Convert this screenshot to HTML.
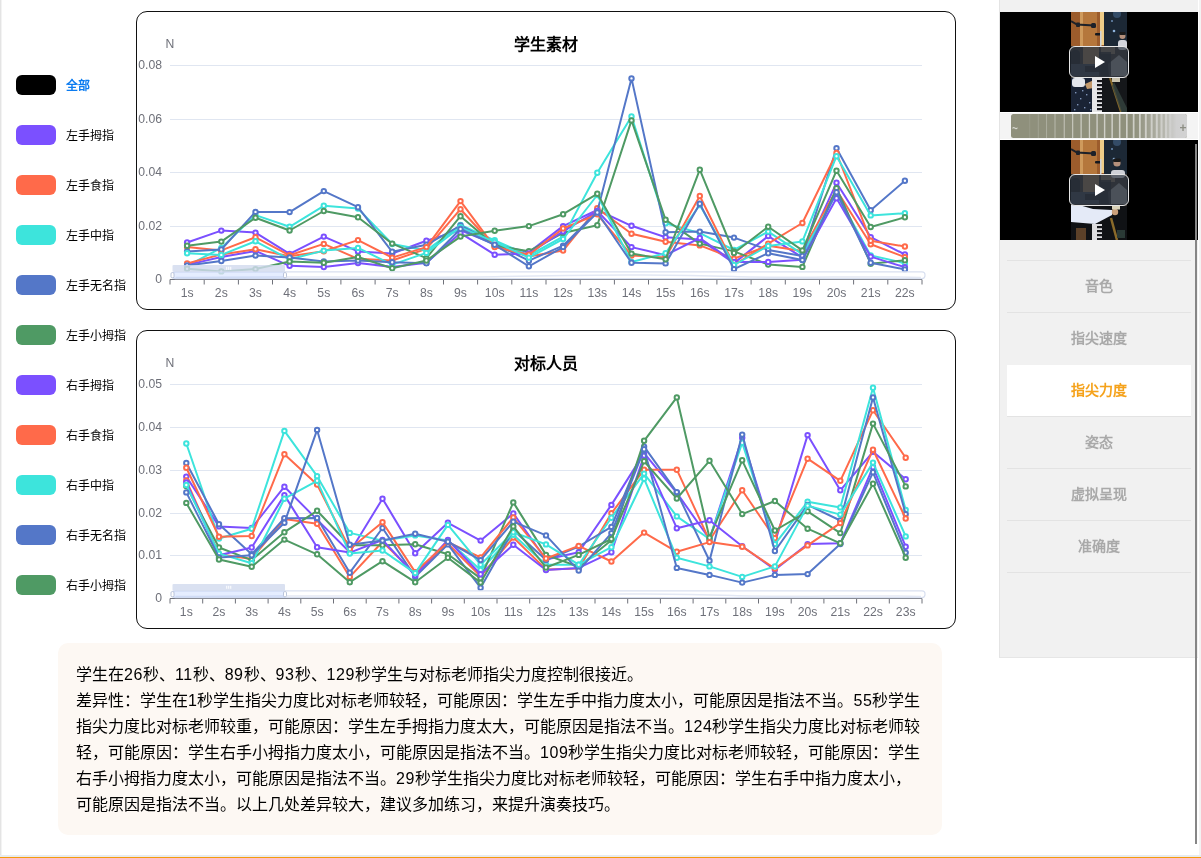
<!DOCTYPE html>
<html lang="zh-CN"><head><meta charset="utf-8"><title>指尖力度</title>
<style>
*{box-sizing:border-box;margin:0;padding:0}
html,body{width:1201px;height:858px;overflow:hidden;background:#fff;font-family:"Liberation Sans",sans-serif;color:#000}
body{position:relative}
.edge-l{position:absolute;left:0;top:0;width:2px;height:856px;background:linear-gradient(90deg,#e4e4e4 0,#e4e4e4 50%,#f3f3f3 50%,#f3f3f3 100%)}
.edge-r{position:absolute;left:1199px;top:0;width:2px;height:856px;background:#f3f3f3}
.edge-b{position:absolute;left:0;top:855px;width:1201px;height:2px;background:#e8ecee}
.edge-o{position:absolute;left:0;top:857px;width:1201px;height:1px;background:#f59a0c}
.lg{position:absolute;left:16px;height:20px;white-space:nowrap;will-change:transform}
.sw{position:absolute;left:0;top:0;width:40px;height:20px;border-radius:6px}
.lt{position:absolute;left:50px;top:0.8px;line-height:20px;font-size:12px;color:#000}
.lt.all{color:#0b7bf0;font-weight:bold}
.box{position:absolute;left:136px;width:820px;height:299px;border:1.5px solid #111;border-radius:11px;background:#fff;overflow:hidden;will-change:transform}
.box svg.ch{position:absolute;left:-0.5px;top:-0.5px;display:block}
.txt{position:absolute;left:58px;top:643px;width:884px;height:192px;background:#fdf8f3;border-radius:10px;padding:19px 18px 17px;will-change:transform}
.ln{height:26px;line-height:26px;font-size:16px;white-space:nowrap;overflow:hidden;color:#000}
.ln .d{letter-spacing:0.56px}
.side{position:absolute;left:999px;top:0;width:199px;height:658px;background:#f1f1f1;border-left:1px solid #e4e4e4;border-bottom:1px solid #e6e6e6;will-change:transform}
.vid{position:absolute;left:0;width:198px;height:100px;background:#000}
.vid svg{position:absolute;left:71px;top:0}
.play{position:absolute;left:69px;top:34px;width:60px;height:32px;border:1.5px solid #e6e6e6;border-radius:6px;background:rgba(43,51,63,.68)}
.play:after{content:"";position:absolute;left:25px;top:8.5px;border-left:10px solid #fff;border-top:6.5px solid transparent;border-bottom:6.5px solid transparent}
.strip{position:absolute;left:0;top:112px;width:198px;height:28px;background:#f4f4f4;border-top:1px solid #fff;border-bottom:1px solid #fff}
.bar{position:absolute;left:11px;top:1px;width:176px;height:24px;border-radius:2.5px;overflow:hidden;background:#8f907c}
.bar .fade{position:absolute;left:0;top:0;width:176px;height:24px;background:linear-gradient(90deg,rgba(210,210,208,0) 0,rgba(210,210,208,0) 70%,rgba(208,208,206,.55) 86%,#d0d0d0 94%,#d2d2d2 100%)}
.bar .lo{position:absolute;left:0;top:0;width:30px;height:24px;background:linear-gradient(90deg,rgba(143,144,124,1),rgba(143,144,124,0))}
.bar span{position:absolute;top:4px;font-size:13px;line-height:16px;font-weight:bold}
.mi{position:absolute;left:7px;width:184px;height:52px;line-height:51px;text-align:center;font-size:14px;font-weight:bold;color:#a9a9a9;border-top:1px solid #e3e3e3}
.mi.act{background:#fff;color:#f5a21b;border-top:1px solid #f1f1f1}
.mend{position:absolute;left:7px;top:572px;width:184px;height:1px;background:#e3e3e3}
.sb{position:absolute;left:1195px;top:144px;width:2px;height:700px;background:#868686}
</style></head>
<body>
<div class="edge-l"></div><div class="edge-r"></div><div class="edge-b"></div><div class="edge-o"></div>
<div class="lg" style="top:75px"><span class="sw" style="background:#000"></span><span class="lt all">全部</span></div>
<div class="lg" style="top:125px"><span class="sw" style="background:#7b50ff"></span><span class="lt">左手拇指</span></div>
<div class="lg" style="top:175px"><span class="sw" style="background:#ff6a4a"></span><span class="lt">左手食指</span></div>
<div class="lg" style="top:225px"><span class="sw" style="background:#3de4dc"></span><span class="lt">左手中指</span></div>
<div class="lg" style="top:275px"><span class="sw" style="background:#5477c8"></span><span class="lt">左手无名指</span></div>
<div class="lg" style="top:325px"><span class="sw" style="background:#4f9a64"></span><span class="lt">左手小拇指</span></div>
<div class="lg" style="top:375px"><span class="sw" style="background:#7b50ff"></span><span class="lt">右手拇指</span></div>
<div class="lg" style="top:425px"><span class="sw" style="background:#ff6a4a"></span><span class="lt">右手食指</span></div>
<div class="lg" style="top:475px"><span class="sw" style="background:#3de4dc"></span><span class="lt">右手中指</span></div>
<div class="lg" style="top:525px"><span class="sw" style="background:#5477c8"></span><span class="lt">右手无名指</span></div>
<div class="lg" style="top:575px"><span class="sw" style="background:#4f9a64"></span><span class="lt">右手小拇指</span></div>
<div class="box" style="top:11px">
<svg class="ch" width="817" height="297" viewBox="137 12 817 297">
<line x1="170" y1="65.5" x2="922" y2="65.5" stroke="#e0e6f1" stroke-width="1"/>
<line x1="170" y1="119.5" x2="922" y2="119.5" stroke="#e0e6f1" stroke-width="1"/>
<line x1="170" y1="172.5" x2="922" y2="172.5" stroke="#e0e6f1" stroke-width="1"/>
<line x1="170" y1="226.5" x2="922" y2="226.5" stroke="#e0e6f1" stroke-width="1"/>
<line x1="170" y1="279.5" x2="922" y2="279.5" stroke="#6e7079" stroke-width="1"/>
<line x1="170.0" y1="279.5" x2="170.0" y2="284.5" stroke="#6e7079" stroke-width="1"/>
<line x1="204.2" y1="279.5" x2="204.2" y2="284.5" stroke="#6e7079" stroke-width="1"/>
<line x1="238.4" y1="279.5" x2="238.4" y2="284.5" stroke="#6e7079" stroke-width="1"/>
<line x1="272.5" y1="279.5" x2="272.5" y2="284.5" stroke="#6e7079" stroke-width="1"/>
<line x1="306.7" y1="279.5" x2="306.7" y2="284.5" stroke="#6e7079" stroke-width="1"/>
<line x1="340.9" y1="279.5" x2="340.9" y2="284.5" stroke="#6e7079" stroke-width="1"/>
<line x1="375.1" y1="279.5" x2="375.1" y2="284.5" stroke="#6e7079" stroke-width="1"/>
<line x1="409.3" y1="279.5" x2="409.3" y2="284.5" stroke="#6e7079" stroke-width="1"/>
<line x1="443.5" y1="279.5" x2="443.5" y2="284.5" stroke="#6e7079" stroke-width="1"/>
<line x1="477.6" y1="279.5" x2="477.6" y2="284.5" stroke="#6e7079" stroke-width="1"/>
<line x1="511.8" y1="279.5" x2="511.8" y2="284.5" stroke="#6e7079" stroke-width="1"/>
<line x1="546.0" y1="279.5" x2="546.0" y2="284.5" stroke="#6e7079" stroke-width="1"/>
<line x1="580.2" y1="279.5" x2="580.2" y2="284.5" stroke="#6e7079" stroke-width="1"/>
<line x1="614.4" y1="279.5" x2="614.4" y2="284.5" stroke="#6e7079" stroke-width="1"/>
<line x1="648.5" y1="279.5" x2="648.5" y2="284.5" stroke="#6e7079" stroke-width="1"/>
<line x1="682.7" y1="279.5" x2="682.7" y2="284.5" stroke="#6e7079" stroke-width="1"/>
<line x1="716.9" y1="279.5" x2="716.9" y2="284.5" stroke="#6e7079" stroke-width="1"/>
<line x1="751.1" y1="279.5" x2="751.1" y2="284.5" stroke="#6e7079" stroke-width="1"/>
<line x1="785.3" y1="279.5" x2="785.3" y2="284.5" stroke="#6e7079" stroke-width="1"/>
<line x1="819.5" y1="279.5" x2="819.5" y2="284.5" stroke="#6e7079" stroke-width="1"/>
<line x1="853.6" y1="279.5" x2="853.6" y2="284.5" stroke="#6e7079" stroke-width="1"/>
<line x1="887.8" y1="279.5" x2="887.8" y2="284.5" stroke="#6e7079" stroke-width="1"/>
<line x1="922.0" y1="279.5" x2="922.0" y2="284.5" stroke="#6e7079" stroke-width="1"/>
<g font-family="Liberation Sans, sans-serif" font-size="12.2" fill="#6e7079">
<text x="162" y="69.3" text-anchor="end">0.08</text>
<text x="162" y="123.3" text-anchor="end">0.06</text>
<text x="162" y="176.3" text-anchor="end">0.04</text>
<text x="162" y="230.3" text-anchor="end">0.02</text>
<text x="162" y="283.3" text-anchor="end">0</text>
<text x="187.1" y="296.7" text-anchor="middle">1s</text>
<text x="221.3" y="296.7" text-anchor="middle">2s</text>
<text x="255.5" y="296.7" text-anchor="middle">3s</text>
<text x="289.6" y="296.7" text-anchor="middle">4s</text>
<text x="323.8" y="296.7" text-anchor="middle">5s</text>
<text x="358.0" y="296.7" text-anchor="middle">6s</text>
<text x="392.2" y="296.7" text-anchor="middle">7s</text>
<text x="426.4" y="296.7" text-anchor="middle">8s</text>
<text x="460.5" y="296.7" text-anchor="middle">9s</text>
<text x="494.7" y="296.7" text-anchor="middle">10s</text>
<text x="528.9" y="296.7" text-anchor="middle">11s</text>
<text x="563.1" y="296.7" text-anchor="middle">12s</text>
<text x="597.3" y="296.7" text-anchor="middle">13s</text>
<text x="631.5" y="296.7" text-anchor="middle">14s</text>
<text x="665.6" y="296.7" text-anchor="middle">15s</text>
<text x="699.8" y="296.7" text-anchor="middle">16s</text>
<text x="734.0" y="296.7" text-anchor="middle">17s</text>
<text x="768.2" y="296.7" text-anchor="middle">18s</text>
<text x="802.4" y="296.7" text-anchor="middle">19s</text>
<text x="836.5" y="296.7" text-anchor="middle">20s</text>
<text x="870.7" y="296.7" text-anchor="middle">21s</text>
<text x="904.9" y="296.7" text-anchor="middle">22s</text>
<text x="170" y="48.0" text-anchor="middle">N</text>
</g>
<text x="546" y="49.5" text-anchor="middle" font-family="Liberation Sans, sans-serif" font-weight="bold" font-size="16" fill="#000">学生素材</text>
<g stroke="#7b50ff" stroke-width="2" fill="#fff"><polyline fill="none" stroke-linejoin="bevel" points="187.1,242.5 221.3,230.6 255.5,232.6 289.6,253.9 323.8,236.6 358.0,251.4 392.2,253.5 426.4,240.7 460.5,230.2 494.7,244.0 528.9,252.4 563.1,226.1 597.3,210.0 631.5,225.8 665.6,237.2 699.8,239.4 734.0,263.1 768.2,236.1 802.4,257.4 836.5,182.8 870.7,237.1 904.9,254.5"/>
<circle cx="187.1" cy="242.5" r="2.2"/>
<circle cx="221.3" cy="230.6" r="2.2"/>
<circle cx="255.5" cy="232.6" r="2.2"/>
<circle cx="289.6" cy="253.9" r="2.2"/>
<circle cx="323.8" cy="236.6" r="2.2"/>
<circle cx="358.0" cy="251.4" r="2.2"/>
<circle cx="392.2" cy="253.5" r="2.2"/>
<circle cx="426.4" cy="240.7" r="2.2"/>
<circle cx="460.5" cy="230.2" r="2.2"/>
<circle cx="494.7" cy="244.0" r="2.2"/>
<circle cx="528.9" cy="252.4" r="2.2"/>
<circle cx="563.1" cy="226.1" r="2.2"/>
<circle cx="597.3" cy="210.0" r="2.2"/>
<circle cx="631.5" cy="225.8" r="2.2"/>
<circle cx="665.6" cy="237.2" r="2.2"/>
<circle cx="699.8" cy="239.4" r="2.2"/>
<circle cx="734.0" cy="263.1" r="2.2"/>
<circle cx="768.2" cy="236.1" r="2.2"/>
<circle cx="802.4" cy="257.4" r="2.2"/>
<circle cx="836.5" cy="182.8" r="2.2"/>
<circle cx="870.7" cy="237.1" r="2.2"/>
<circle cx="904.9" cy="254.5" r="2.2"/>
</g>
<g stroke="#ff6a4a" stroke-width="2" fill="#fff"><polyline fill="none" stroke-linejoin="bevel" points="187.1,246.9 221.3,250.4 255.5,237.3 289.6,255.3 323.8,243.9 358.0,258.8 392.2,260.5 426.4,248.9 460.5,209.2 494.7,246.5 528.9,256.4 563.1,250.6 597.3,208.3 631.5,233.7 665.6,241.7 699.8,245.4 734.0,258.6 768.2,245.7 802.4,251.1 836.5,190.0 870.7,244.2 904.9,257.1"/>
<circle cx="187.1" cy="246.9" r="2.2"/>
<circle cx="221.3" cy="250.4" r="2.2"/>
<circle cx="255.5" cy="237.3" r="2.2"/>
<circle cx="289.6" cy="255.3" r="2.2"/>
<circle cx="323.8" cy="243.9" r="2.2"/>
<circle cx="358.0" cy="258.8" r="2.2"/>
<circle cx="392.2" cy="260.5" r="2.2"/>
<circle cx="426.4" cy="248.9" r="2.2"/>
<circle cx="460.5" cy="209.2" r="2.2"/>
<circle cx="494.7" cy="246.5" r="2.2"/>
<circle cx="528.9" cy="256.4" r="2.2"/>
<circle cx="563.1" cy="250.6" r="2.2"/>
<circle cx="597.3" cy="208.3" r="2.2"/>
<circle cx="631.5" cy="233.7" r="2.2"/>
<circle cx="665.6" cy="241.7" r="2.2"/>
<circle cx="699.8" cy="245.4" r="2.2"/>
<circle cx="734.0" cy="258.6" r="2.2"/>
<circle cx="768.2" cy="245.7" r="2.2"/>
<circle cx="802.4" cy="251.1" r="2.2"/>
<circle cx="836.5" cy="190.0" r="2.2"/>
<circle cx="870.7" cy="244.2" r="2.2"/>
<circle cx="904.9" cy="257.1" r="2.2"/>
</g>
<g stroke="#3de4dc" stroke-width="2" fill="#fff"><polyline fill="none" stroke-linejoin="bevel" points="187.1,265.8 221.3,247.9 255.5,215.1 289.6,226.8 323.8,205.8 358.0,208.6 392.2,244.0 426.4,250.6 460.5,225.0 494.7,240.3 528.9,255.5 563.1,236.6 597.3,172.8 631.5,116.4 665.6,223.2 699.8,233.1 734.0,250.0 768.2,231.6 802.4,254.1 836.5,193.7 870.7,255.4 904.9,263.2"/>
<circle cx="187.1" cy="265.8" r="2.2"/>
<circle cx="221.3" cy="247.9" r="2.2"/>
<circle cx="255.5" cy="215.1" r="2.2"/>
<circle cx="289.6" cy="226.8" r="2.2"/>
<circle cx="323.8" cy="205.8" r="2.2"/>
<circle cx="358.0" cy="208.6" r="2.2"/>
<circle cx="392.2" cy="244.0" r="2.2"/>
<circle cx="426.4" cy="250.6" r="2.2"/>
<circle cx="460.5" cy="225.0" r="2.2"/>
<circle cx="494.7" cy="240.3" r="2.2"/>
<circle cx="528.9" cy="255.5" r="2.2"/>
<circle cx="563.1" cy="236.6" r="2.2"/>
<circle cx="597.3" cy="172.8" r="2.2"/>
<circle cx="631.5" cy="116.4" r="2.2"/>
<circle cx="665.6" cy="223.2" r="2.2"/>
<circle cx="699.8" cy="233.1" r="2.2"/>
<circle cx="734.0" cy="250.0" r="2.2"/>
<circle cx="768.2" cy="231.6" r="2.2"/>
<circle cx="802.4" cy="254.1" r="2.2"/>
<circle cx="836.5" cy="193.7" r="2.2"/>
<circle cx="870.7" cy="255.4" r="2.2"/>
<circle cx="904.9" cy="263.2" r="2.2"/>
</g>
<g stroke="#5477c8" stroke-width="2" fill="#fff"><polyline fill="none" stroke-linejoin="bevel" points="187.1,251.4 221.3,249.5 255.5,211.9 289.6,212.1 323.8,191.1 358.0,207.2 392.2,251.8 426.4,244.8 460.5,225.5 494.7,243.8 528.9,260.7 563.1,245.7 597.3,211.4 631.5,78.4 665.6,232.2 699.8,231.6 734.0,237.6 768.2,249.9 802.4,255.9 836.5,148.2 870.7,210.2 904.9,180.8"/>
<circle cx="187.1" cy="251.4" r="2.2"/>
<circle cx="221.3" cy="249.5" r="2.2"/>
<circle cx="255.5" cy="211.9" r="2.2"/>
<circle cx="289.6" cy="212.1" r="2.2"/>
<circle cx="323.8" cy="191.1" r="2.2"/>
<circle cx="358.0" cy="207.2" r="2.2"/>
<circle cx="392.2" cy="251.8" r="2.2"/>
<circle cx="426.4" cy="244.8" r="2.2"/>
<circle cx="460.5" cy="225.5" r="2.2"/>
<circle cx="494.7" cy="243.8" r="2.2"/>
<circle cx="528.9" cy="260.7" r="2.2"/>
<circle cx="563.1" cy="245.7" r="2.2"/>
<circle cx="597.3" cy="211.4" r="2.2"/>
<circle cx="631.5" cy="78.4" r="2.2"/>
<circle cx="665.6" cy="232.2" r="2.2"/>
<circle cx="699.8" cy="231.6" r="2.2"/>
<circle cx="734.0" cy="237.6" r="2.2"/>
<circle cx="768.2" cy="249.9" r="2.2"/>
<circle cx="802.4" cy="255.9" r="2.2"/>
<circle cx="836.5" cy="148.2" r="2.2"/>
<circle cx="870.7" cy="210.2" r="2.2"/>
<circle cx="904.9" cy="180.8" r="2.2"/>
</g>
<g stroke="#4f9a64" stroke-width="2" fill="#fff"><polyline fill="none" stroke-linejoin="bevel" points="187.1,245.7 221.3,241.6 255.5,217.7 289.6,230.5 323.8,211.0 358.0,217.3 392.2,243.6 426.4,258.2 460.5,216.2 494.7,245.4 528.9,251.2 563.1,232.9 597.3,225.3 631.5,120.4 665.6,219.7 699.8,243.6 734.0,251.4 768.2,264.5 802.4,266.9 836.5,188.1 870.7,263.7 904.9,260.2"/>
<circle cx="187.1" cy="245.7" r="2.2"/>
<circle cx="221.3" cy="241.6" r="2.2"/>
<circle cx="255.5" cy="217.7" r="2.2"/>
<circle cx="289.6" cy="230.5" r="2.2"/>
<circle cx="323.8" cy="211.0" r="2.2"/>
<circle cx="358.0" cy="217.3" r="2.2"/>
<circle cx="392.2" cy="243.6" r="2.2"/>
<circle cx="426.4" cy="258.2" r="2.2"/>
<circle cx="460.5" cy="216.2" r="2.2"/>
<circle cx="494.7" cy="245.4" r="2.2"/>
<circle cx="528.9" cy="251.2" r="2.2"/>
<circle cx="563.1" cy="232.9" r="2.2"/>
<circle cx="597.3" cy="225.3" r="2.2"/>
<circle cx="631.5" cy="120.4" r="2.2"/>
<circle cx="665.6" cy="219.7" r="2.2"/>
<circle cx="699.8" cy="243.6" r="2.2"/>
<circle cx="734.0" cy="251.4" r="2.2"/>
<circle cx="768.2" cy="264.5" r="2.2"/>
<circle cx="802.4" cy="266.9" r="2.2"/>
<circle cx="836.5" cy="188.1" r="2.2"/>
<circle cx="870.7" cy="263.7" r="2.2"/>
<circle cx="904.9" cy="260.2" r="2.2"/>
</g>
<g stroke="#7b50ff" stroke-width="2" fill="#fff"><polyline fill="none" stroke-linejoin="bevel" points="187.1,264.9 221.3,257.0 255.5,250.9 289.6,265.8 323.8,267.0 358.0,263.1 392.2,266.9 426.4,262.8 460.5,233.1 494.7,254.7 528.9,253.5 563.1,231.4 597.3,211.0 631.5,247.1 665.6,255.2 699.8,238.0 734.0,262.0 768.2,261.9 802.4,259.7 836.5,198.2 870.7,256.6 904.9,267.2"/>
<circle cx="187.1" cy="264.9" r="2.2"/>
<circle cx="221.3" cy="257.0" r="2.2"/>
<circle cx="255.5" cy="250.9" r="2.2"/>
<circle cx="289.6" cy="265.8" r="2.2"/>
<circle cx="323.8" cy="267.0" r="2.2"/>
<circle cx="358.0" cy="263.1" r="2.2"/>
<circle cx="392.2" cy="266.9" r="2.2"/>
<circle cx="426.4" cy="262.8" r="2.2"/>
<circle cx="460.5" cy="233.1" r="2.2"/>
<circle cx="494.7" cy="254.7" r="2.2"/>
<circle cx="528.9" cy="253.5" r="2.2"/>
<circle cx="563.1" cy="231.4" r="2.2"/>
<circle cx="597.3" cy="211.0" r="2.2"/>
<circle cx="631.5" cy="247.1" r="2.2"/>
<circle cx="665.6" cy="255.2" r="2.2"/>
<circle cx="699.8" cy="238.0" r="2.2"/>
<circle cx="734.0" cy="262.0" r="2.2"/>
<circle cx="768.2" cy="261.9" r="2.2"/>
<circle cx="802.4" cy="259.7" r="2.2"/>
<circle cx="836.5" cy="198.2" r="2.2"/>
<circle cx="870.7" cy="256.6" r="2.2"/>
<circle cx="904.9" cy="267.2" r="2.2"/>
</g>
<g stroke="#ff6a4a" stroke-width="2" fill="#fff"><polyline fill="none" stroke-linejoin="bevel" points="187.1,263.5 221.3,254.4 255.5,249.3 289.6,256.2 323.8,251.3 358.0,240.1 392.2,257.6 426.4,247.1 460.5,201.1 494.7,247.1 528.9,254.7 563.1,228.5 597.3,214.3 631.5,255.5 665.6,257.4 699.8,196.0 734.0,265.0 768.2,243.6 802.4,223.0 836.5,153.0 870.7,240.7 904.9,246.5"/>
<circle cx="187.1" cy="263.5" r="2.2"/>
<circle cx="221.3" cy="254.4" r="2.2"/>
<circle cx="255.5" cy="249.3" r="2.2"/>
<circle cx="289.6" cy="256.2" r="2.2"/>
<circle cx="323.8" cy="251.3" r="2.2"/>
<circle cx="358.0" cy="240.1" r="2.2"/>
<circle cx="392.2" cy="257.6" r="2.2"/>
<circle cx="426.4" cy="247.1" r="2.2"/>
<circle cx="460.5" cy="201.1" r="2.2"/>
<circle cx="494.7" cy="247.1" r="2.2"/>
<circle cx="528.9" cy="254.7" r="2.2"/>
<circle cx="563.1" cy="228.5" r="2.2"/>
<circle cx="597.3" cy="214.3" r="2.2"/>
<circle cx="631.5" cy="255.5" r="2.2"/>
<circle cx="665.6" cy="257.4" r="2.2"/>
<circle cx="699.8" cy="196.0" r="2.2"/>
<circle cx="734.0" cy="265.0" r="2.2"/>
<circle cx="768.2" cy="243.6" r="2.2"/>
<circle cx="802.4" cy="223.0" r="2.2"/>
<circle cx="836.5" cy="153.0" r="2.2"/>
<circle cx="870.7" cy="240.7" r="2.2"/>
<circle cx="904.9" cy="246.5" r="2.2"/>
</g>
<g stroke="#3de4dc" stroke-width="2" fill="#fff"><polyline fill="none" stroke-linejoin="bevel" points="187.1,253.2 221.3,254.9 255.5,241.3 289.6,259.3 323.8,250.6 358.0,247.9 392.2,264.6 426.4,252.9 460.5,227.3 494.7,241.9 528.9,257.6 563.1,239.0 597.3,195.0 631.5,262.0 665.6,253.2 699.8,205.0 734.0,265.0 768.2,246.0 802.4,241.4 836.5,156.2 870.7,215.4 904.9,213.2"/>
<circle cx="187.1" cy="253.2" r="2.2"/>
<circle cx="221.3" cy="254.9" r="2.2"/>
<circle cx="255.5" cy="241.3" r="2.2"/>
<circle cx="289.6" cy="259.3" r="2.2"/>
<circle cx="323.8" cy="250.6" r="2.2"/>
<circle cx="358.0" cy="247.9" r="2.2"/>
<circle cx="392.2" cy="264.6" r="2.2"/>
<circle cx="426.4" cy="252.9" r="2.2"/>
<circle cx="460.5" cy="227.3" r="2.2"/>
<circle cx="494.7" cy="241.9" r="2.2"/>
<circle cx="528.9" cy="257.6" r="2.2"/>
<circle cx="563.1" cy="239.0" r="2.2"/>
<circle cx="597.3" cy="195.0" r="2.2"/>
<circle cx="631.5" cy="262.0" r="2.2"/>
<circle cx="665.6" cy="253.2" r="2.2"/>
<circle cx="699.8" cy="205.0" r="2.2"/>
<circle cx="734.0" cy="265.0" r="2.2"/>
<circle cx="768.2" cy="246.0" r="2.2"/>
<circle cx="802.4" cy="241.4" r="2.2"/>
<circle cx="836.5" cy="156.2" r="2.2"/>
<circle cx="870.7" cy="215.4" r="2.2"/>
<circle cx="904.9" cy="213.2" r="2.2"/>
</g>
<g stroke="#5477c8" stroke-width="2" fill="#fff"><polyline fill="none" stroke-linejoin="bevel" points="187.1,265.4 221.3,261.0 255.5,255.6 289.6,257.4 323.8,261.4 358.0,260.5 392.2,262.3 426.4,263.2 460.5,229.0 494.7,244.8 528.9,266.3 563.1,247.1 597.3,212.5 631.5,262.8 665.6,263.4 699.8,203.8 734.0,269.1 768.2,253.2 802.4,260.1 836.5,192.3 870.7,262.8 904.9,269.4"/>
<circle cx="187.1" cy="265.4" r="2.2"/>
<circle cx="221.3" cy="261.0" r="2.2"/>
<circle cx="255.5" cy="255.6" r="2.2"/>
<circle cx="289.6" cy="257.4" r="2.2"/>
<circle cx="323.8" cy="261.4" r="2.2"/>
<circle cx="358.0" cy="260.5" r="2.2"/>
<circle cx="392.2" cy="262.3" r="2.2"/>
<circle cx="426.4" cy="263.2" r="2.2"/>
<circle cx="460.5" cy="229.0" r="2.2"/>
<circle cx="494.7" cy="244.8" r="2.2"/>
<circle cx="528.9" cy="266.3" r="2.2"/>
<circle cx="563.1" cy="247.1" r="2.2"/>
<circle cx="597.3" cy="212.5" r="2.2"/>
<circle cx="631.5" cy="262.8" r="2.2"/>
<circle cx="665.6" cy="263.4" r="2.2"/>
<circle cx="699.8" cy="203.8" r="2.2"/>
<circle cx="734.0" cy="269.1" r="2.2"/>
<circle cx="768.2" cy="253.2" r="2.2"/>
<circle cx="802.4" cy="260.1" r="2.2"/>
<circle cx="836.5" cy="192.3" r="2.2"/>
<circle cx="870.7" cy="262.8" r="2.2"/>
<circle cx="904.9" cy="269.4" r="2.2"/>
</g>
<g stroke="#4f9a64" stroke-width="2" fill="#fff"><polyline fill="none" stroke-linejoin="bevel" points="187.1,268.7 221.3,271.4 255.5,269.1 289.6,261.4 323.8,262.8 358.0,257.0 392.2,268.3 426.4,260.5 460.5,236.6 494.7,230.8 528.9,226.1 563.1,214.2 597.3,193.8 631.5,253.6 665.6,259.2 699.8,169.7 734.0,253.0 768.2,226.7 802.4,250.4 836.5,170.7 870.7,227.0 904.9,217.3"/>
<circle cx="187.1" cy="268.7" r="2.2"/>
<circle cx="221.3" cy="271.4" r="2.2"/>
<circle cx="255.5" cy="269.1" r="2.2"/>
<circle cx="289.6" cy="261.4" r="2.2"/>
<circle cx="323.8" cy="262.8" r="2.2"/>
<circle cx="358.0" cy="257.0" r="2.2"/>
<circle cx="392.2" cy="268.3" r="2.2"/>
<circle cx="426.4" cy="260.5" r="2.2"/>
<circle cx="460.5" cy="236.6" r="2.2"/>
<circle cx="494.7" cy="230.8" r="2.2"/>
<circle cx="528.9" cy="226.1" r="2.2"/>
<circle cx="563.1" cy="214.2" r="2.2"/>
<circle cx="597.3" cy="193.8" r="2.2"/>
<circle cx="631.5" cy="253.6" r="2.2"/>
<circle cx="665.6" cy="259.2" r="2.2"/>
<circle cx="699.8" cy="169.7" r="2.2"/>
<circle cx="734.0" cy="253.0" r="2.2"/>
<circle cx="768.2" cy="226.7" r="2.2"/>
<circle cx="802.4" cy="250.4" r="2.2"/>
<circle cx="836.5" cy="170.7" r="2.2"/>
<circle cx="870.7" cy="227.0" r="2.2"/>
<circle cx="904.9" cy="217.3" r="2.2"/>
</g>
<rect x="172.5" y="271.8" width="752.5" height="6.800000000000011" rx="3" fill="rgba(255,255,255,.75)" stroke="#d9e0f0" stroke-width="1.2"/>
<path d="M175.5 277.6 C292.5 275.6, 422.5 278.6 , 502.5 276.6 S 672.5 274.6, 732.5 276.6 S 872.5 275.6,921 277.6" fill="none" stroke="#e3e8f4" stroke-width="1.5"/>
<rect x="172.5" y="271.8" width="112.5" height="6.800000000000011" fill="rgba(135,175,255,.22)"/>
<rect x="172.5" y="265.1" width="112.5" height="6.7" rx="1" fill="rgba(210,219,238,.82)"/>
<line x1="226.75" y1="266.8" x2="226.75" y2="269.8" stroke="#fff" stroke-width="1"/>
<line x1="228.75" y1="266.8" x2="228.75" y2="269.8" stroke="#fff" stroke-width="1"/>
<line x1="230.75" y1="266.8" x2="230.75" y2="269.8" stroke="#fff" stroke-width="1"/>
<rect x="171.0" y="272.6" width="3" height="5.200000000000012" rx="1.2" fill="#fff" stroke="#acb8d1" stroke-width="0.8"/>
<rect x="283.5" y="272.6" width="3" height="5.200000000000012" rx="1.2" fill="#fff" stroke="#acb8d1" stroke-width="0.8"/>
</svg>
</div>
<div class="box" style="top:330px">
<svg class="ch" width="817" height="297" viewBox="137 331 817 297">
<line x1="170" y1="384.5" x2="922" y2="384.5" stroke="#e0e6f1" stroke-width="1"/>
<line x1="170" y1="427.5" x2="922" y2="427.5" stroke="#e0e6f1" stroke-width="1"/>
<line x1="170" y1="470.5" x2="922" y2="470.5" stroke="#e0e6f1" stroke-width="1"/>
<line x1="170" y1="513.5" x2="922" y2="513.5" stroke="#e0e6f1" stroke-width="1"/>
<line x1="170" y1="555.5" x2="922" y2="555.5" stroke="#e0e6f1" stroke-width="1"/>
<line x1="170" y1="598.5" x2="922" y2="598.5" stroke="#6e7079" stroke-width="1"/>
<line x1="170.0" y1="598.5" x2="170.0" y2="603.5" stroke="#6e7079" stroke-width="1"/>
<line x1="202.7" y1="598.5" x2="202.7" y2="603.5" stroke="#6e7079" stroke-width="1"/>
<line x1="235.4" y1="598.5" x2="235.4" y2="603.5" stroke="#6e7079" stroke-width="1"/>
<line x1="268.1" y1="598.5" x2="268.1" y2="603.5" stroke="#6e7079" stroke-width="1"/>
<line x1="300.8" y1="598.5" x2="300.8" y2="603.5" stroke="#6e7079" stroke-width="1"/>
<line x1="333.5" y1="598.5" x2="333.5" y2="603.5" stroke="#6e7079" stroke-width="1"/>
<line x1="366.2" y1="598.5" x2="366.2" y2="603.5" stroke="#6e7079" stroke-width="1"/>
<line x1="398.9" y1="598.5" x2="398.9" y2="603.5" stroke="#6e7079" stroke-width="1"/>
<line x1="431.6" y1="598.5" x2="431.6" y2="603.5" stroke="#6e7079" stroke-width="1"/>
<line x1="464.3" y1="598.5" x2="464.3" y2="603.5" stroke="#6e7079" stroke-width="1"/>
<line x1="497.0" y1="598.5" x2="497.0" y2="603.5" stroke="#6e7079" stroke-width="1"/>
<line x1="529.7" y1="598.5" x2="529.7" y2="603.5" stroke="#6e7079" stroke-width="1"/>
<line x1="562.3" y1="598.5" x2="562.3" y2="603.5" stroke="#6e7079" stroke-width="1"/>
<line x1="595.0" y1="598.5" x2="595.0" y2="603.5" stroke="#6e7079" stroke-width="1"/>
<line x1="627.7" y1="598.5" x2="627.7" y2="603.5" stroke="#6e7079" stroke-width="1"/>
<line x1="660.4" y1="598.5" x2="660.4" y2="603.5" stroke="#6e7079" stroke-width="1"/>
<line x1="693.1" y1="598.5" x2="693.1" y2="603.5" stroke="#6e7079" stroke-width="1"/>
<line x1="725.8" y1="598.5" x2="725.8" y2="603.5" stroke="#6e7079" stroke-width="1"/>
<line x1="758.5" y1="598.5" x2="758.5" y2="603.5" stroke="#6e7079" stroke-width="1"/>
<line x1="791.2" y1="598.5" x2="791.2" y2="603.5" stroke="#6e7079" stroke-width="1"/>
<line x1="823.9" y1="598.5" x2="823.9" y2="603.5" stroke="#6e7079" stroke-width="1"/>
<line x1="856.6" y1="598.5" x2="856.6" y2="603.5" stroke="#6e7079" stroke-width="1"/>
<line x1="889.3" y1="598.5" x2="889.3" y2="603.5" stroke="#6e7079" stroke-width="1"/>
<line x1="922.0" y1="598.5" x2="922.0" y2="603.5" stroke="#6e7079" stroke-width="1"/>
<g font-family="Liberation Sans, sans-serif" font-size="12.2" fill="#6e7079">
<text x="162" y="388.3" text-anchor="end">0.05</text>
<text x="162" y="431.3" text-anchor="end">0.04</text>
<text x="162" y="474.3" text-anchor="end">0.03</text>
<text x="162" y="517.3" text-anchor="end">0.02</text>
<text x="162" y="559.3" text-anchor="end">0.01</text>
<text x="162" y="602.3" text-anchor="end">0</text>
<text x="186.3" y="615.7" text-anchor="middle">1s</text>
<text x="219.0" y="615.7" text-anchor="middle">2s</text>
<text x="251.7" y="615.7" text-anchor="middle">3s</text>
<text x="284.4" y="615.7" text-anchor="middle">4s</text>
<text x="317.1" y="615.7" text-anchor="middle">5s</text>
<text x="349.8" y="615.7" text-anchor="middle">6s</text>
<text x="382.5" y="615.7" text-anchor="middle">7s</text>
<text x="415.2" y="615.7" text-anchor="middle">8s</text>
<text x="447.9" y="615.7" text-anchor="middle">9s</text>
<text x="480.6" y="615.7" text-anchor="middle">10s</text>
<text x="513.3" y="615.7" text-anchor="middle">11s</text>
<text x="546.0" y="615.7" text-anchor="middle">12s</text>
<text x="578.7" y="615.7" text-anchor="middle">13s</text>
<text x="611.4" y="615.7" text-anchor="middle">14s</text>
<text x="644.1" y="615.7" text-anchor="middle">15s</text>
<text x="676.8" y="615.7" text-anchor="middle">16s</text>
<text x="709.5" y="615.7" text-anchor="middle">17s</text>
<text x="742.2" y="615.7" text-anchor="middle">18s</text>
<text x="774.9" y="615.7" text-anchor="middle">19s</text>
<text x="807.6" y="615.7" text-anchor="middle">20s</text>
<text x="840.3" y="615.7" text-anchor="middle">21s</text>
<text x="873.0" y="615.7" text-anchor="middle">22s</text>
<text x="905.7" y="615.7" text-anchor="middle">23s</text>
<text x="170" y="367.0" text-anchor="middle">N</text>
</g>
<text x="546" y="368.5" text-anchor="middle" font-family="Liberation Sans, sans-serif" font-weight="bold" font-size="16" fill="#000">对标人员</text>
<g stroke="#7b50ff" stroke-width="2" fill="#fff"><polyline fill="none" stroke-linejoin="bevel" points="186.3,476.6 219.0,526.4 251.7,528.0 284.4,486.7 317.1,519.6 349.8,552.2 382.5,498.7 415.2,553.2 447.9,522.8 480.6,540.6 513.3,513.4 546.0,559.5 578.7,552.2 611.4,504.9 644.1,453.1 676.8,492.8 709.5,539.0 742.2,437.7 774.9,542.8 807.6,435.1 840.3,490.3 873.0,451.8 905.7,479.2"/>
<circle cx="186.3" cy="476.6" r="2.2"/>
<circle cx="219.0" cy="526.4" r="2.2"/>
<circle cx="251.7" cy="528.0" r="2.2"/>
<circle cx="284.4" cy="486.7" r="2.2"/>
<circle cx="317.1" cy="519.6" r="2.2"/>
<circle cx="349.8" cy="552.2" r="2.2"/>
<circle cx="382.5" cy="498.7" r="2.2"/>
<circle cx="415.2" cy="553.2" r="2.2"/>
<circle cx="447.9" cy="522.8" r="2.2"/>
<circle cx="480.6" cy="540.6" r="2.2"/>
<circle cx="513.3" cy="513.4" r="2.2"/>
<circle cx="546.0" cy="559.5" r="2.2"/>
<circle cx="578.7" cy="552.2" r="2.2"/>
<circle cx="611.4" cy="504.9" r="2.2"/>
<circle cx="644.1" cy="453.1" r="2.2"/>
<circle cx="676.8" cy="492.8" r="2.2"/>
<circle cx="709.5" cy="539.0" r="2.2"/>
<circle cx="742.2" cy="437.7" r="2.2"/>
<circle cx="774.9" cy="542.8" r="2.2"/>
<circle cx="807.6" cy="435.1" r="2.2"/>
<circle cx="840.3" cy="490.3" r="2.2"/>
<circle cx="873.0" cy="451.8" r="2.2"/>
<circle cx="905.7" cy="479.2" r="2.2"/>
</g>
<g stroke="#ff6a4a" stroke-width="2" fill="#fff"><polyline fill="none" stroke-linejoin="bevel" points="186.3,480.4 219.0,554.3 251.7,558.9 284.4,519.0 317.1,523.8 349.8,576.9 382.5,541.7 415.2,574.2 447.9,543.8 480.6,576.3 513.3,537.5 546.0,569.4 578.7,568.5 611.4,513.3 644.1,469.7 676.8,469.7 709.5,540.3 742.2,490.3 774.9,538.2 807.6,458.7 840.3,480.8 873.0,410.3 905.7,457.7"/>
<circle cx="186.3" cy="480.4" r="2.2"/>
<circle cx="219.0" cy="554.3" r="2.2"/>
<circle cx="251.7" cy="558.9" r="2.2"/>
<circle cx="284.4" cy="519.0" r="2.2"/>
<circle cx="317.1" cy="523.8" r="2.2"/>
<circle cx="349.8" cy="576.9" r="2.2"/>
<circle cx="382.5" cy="541.7" r="2.2"/>
<circle cx="415.2" cy="574.2" r="2.2"/>
<circle cx="447.9" cy="543.8" r="2.2"/>
<circle cx="480.6" cy="576.3" r="2.2"/>
<circle cx="513.3" cy="537.5" r="2.2"/>
<circle cx="546.0" cy="569.4" r="2.2"/>
<circle cx="578.7" cy="568.5" r="2.2"/>
<circle cx="611.4" cy="513.3" r="2.2"/>
<circle cx="644.1" cy="469.7" r="2.2"/>
<circle cx="676.8" cy="469.7" r="2.2"/>
<circle cx="709.5" cy="540.3" r="2.2"/>
<circle cx="742.2" cy="490.3" r="2.2"/>
<circle cx="774.9" cy="538.2" r="2.2"/>
<circle cx="807.6" cy="458.7" r="2.2"/>
<circle cx="840.3" cy="480.8" r="2.2"/>
<circle cx="873.0" cy="410.3" r="2.2"/>
<circle cx="905.7" cy="457.7" r="2.2"/>
</g>
<g stroke="#3de4dc" stroke-width="2" fill="#fff"><polyline fill="none" stroke-linejoin="bevel" points="186.3,443.5 219.0,538.5 251.7,528.7 284.4,430.9 317.1,476.2 349.8,532.9 382.5,540.6 415.2,535.4 447.9,540.6 480.6,570.0 513.3,534.7 546.0,564.7 578.7,564.7 611.4,517.7 644.1,473.6 676.8,516.4 709.5,539.0 742.2,442.8 774.9,544.1 807.6,501.8 840.3,507.4 873.0,387.7 905.7,510.0"/>
<circle cx="186.3" cy="443.5" r="2.2"/>
<circle cx="219.0" cy="538.5" r="2.2"/>
<circle cx="251.7" cy="528.7" r="2.2"/>
<circle cx="284.4" cy="430.9" r="2.2"/>
<circle cx="317.1" cy="476.2" r="2.2"/>
<circle cx="349.8" cy="532.9" r="2.2"/>
<circle cx="382.5" cy="540.6" r="2.2"/>
<circle cx="415.2" cy="535.4" r="2.2"/>
<circle cx="447.9" cy="540.6" r="2.2"/>
<circle cx="480.6" cy="570.0" r="2.2"/>
<circle cx="513.3" cy="534.7" r="2.2"/>
<circle cx="546.0" cy="564.7" r="2.2"/>
<circle cx="578.7" cy="564.7" r="2.2"/>
<circle cx="611.4" cy="517.7" r="2.2"/>
<circle cx="644.1" cy="473.6" r="2.2"/>
<circle cx="676.8" cy="516.4" r="2.2"/>
<circle cx="709.5" cy="539.0" r="2.2"/>
<circle cx="742.2" cy="442.8" r="2.2"/>
<circle cx="774.9" cy="544.1" r="2.2"/>
<circle cx="807.6" cy="501.8" r="2.2"/>
<circle cx="840.3" cy="507.4" r="2.2"/>
<circle cx="873.0" cy="387.7" r="2.2"/>
<circle cx="905.7" cy="510.0" r="2.2"/>
</g>
<g stroke="#5477c8" stroke-width="2" fill="#fff"><polyline fill="none" stroke-linejoin="bevel" points="186.3,463.0 219.0,524.3 251.7,554.3 284.4,518.2 317.1,518.0 349.8,572.7 382.5,528.0 415.2,576.9 447.9,544.4 480.6,587.8 513.3,530.1 546.0,560.1 578.7,546.5 611.4,526.9 644.1,446.7 676.8,492.1 709.5,560.8 742.2,434.6 774.9,551.0 807.6,504.9 840.3,520.5 873.0,397.4 905.7,514.1"/>
<circle cx="186.3" cy="463.0" r="2.2"/>
<circle cx="219.0" cy="524.3" r="2.2"/>
<circle cx="251.7" cy="554.3" r="2.2"/>
<circle cx="284.4" cy="518.2" r="2.2"/>
<circle cx="317.1" cy="518.0" r="2.2"/>
<circle cx="349.8" cy="572.7" r="2.2"/>
<circle cx="382.5" cy="528.0" r="2.2"/>
<circle cx="415.2" cy="576.9" r="2.2"/>
<circle cx="447.9" cy="544.4" r="2.2"/>
<circle cx="480.6" cy="587.8" r="2.2"/>
<circle cx="513.3" cy="530.1" r="2.2"/>
<circle cx="546.0" cy="560.1" r="2.2"/>
<circle cx="578.7" cy="546.5" r="2.2"/>
<circle cx="611.4" cy="526.9" r="2.2"/>
<circle cx="644.1" cy="446.7" r="2.2"/>
<circle cx="676.8" cy="492.1" r="2.2"/>
<circle cx="709.5" cy="560.8" r="2.2"/>
<circle cx="742.2" cy="434.6" r="2.2"/>
<circle cx="774.9" cy="551.0" r="2.2"/>
<circle cx="807.6" cy="504.9" r="2.2"/>
<circle cx="840.3" cy="520.5" r="2.2"/>
<circle cx="873.0" cy="397.4" r="2.2"/>
<circle cx="905.7" cy="514.1" r="2.2"/>
</g>
<g stroke="#4f9a64" stroke-width="2" fill="#fff"><polyline fill="none" stroke-linejoin="bevel" points="186.3,486.1 219.0,547.5 251.7,560.1 284.4,532.2 317.1,510.8 349.8,545.2 382.5,545.2 415.2,544.2 447.9,554.3 480.6,578.4 513.3,502.4 546.0,554.9 578.7,566.8 611.4,540.3 644.1,440.8 676.8,397.4 709.5,537.7 742.2,460.3 774.9,530.5 807.6,511.3 840.3,533.1 873.0,423.6 905.7,486.4"/>
<circle cx="186.3" cy="486.1" r="2.2"/>
<circle cx="219.0" cy="547.5" r="2.2"/>
<circle cx="251.7" cy="560.1" r="2.2"/>
<circle cx="284.4" cy="532.2" r="2.2"/>
<circle cx="317.1" cy="510.8" r="2.2"/>
<circle cx="349.8" cy="545.2" r="2.2"/>
<circle cx="382.5" cy="545.2" r="2.2"/>
<circle cx="415.2" cy="544.2" r="2.2"/>
<circle cx="447.9" cy="554.3" r="2.2"/>
<circle cx="480.6" cy="578.4" r="2.2"/>
<circle cx="513.3" cy="502.4" r="2.2"/>
<circle cx="546.0" cy="554.9" r="2.2"/>
<circle cx="578.7" cy="566.8" r="2.2"/>
<circle cx="611.4" cy="540.3" r="2.2"/>
<circle cx="644.1" cy="440.8" r="2.2"/>
<circle cx="676.8" cy="397.4" r="2.2"/>
<circle cx="709.5" cy="537.7" r="2.2"/>
<circle cx="742.2" cy="460.3" r="2.2"/>
<circle cx="774.9" cy="530.5" r="2.2"/>
<circle cx="807.6" cy="511.3" r="2.2"/>
<circle cx="840.3" cy="533.1" r="2.2"/>
<circle cx="873.0" cy="423.6" r="2.2"/>
<circle cx="905.7" cy="486.4" r="2.2"/>
</g>
<g stroke="#7b50ff" stroke-width="2" fill="#fff"><polyline fill="none" stroke-linejoin="bevel" points="186.3,482.5 219.0,555.3 251.7,547.5 284.4,495.1 317.1,547.3 349.8,552.6 382.5,540.0 415.2,575.2 447.9,540.0 480.6,574.2 513.3,544.8 546.0,570.0 578.7,567.9 611.4,552.3 644.1,455.6 676.8,528.2 709.5,520.3 742.2,546.2 774.9,569.7 807.6,544.1 840.3,543.3 873.0,467.2 905.7,546.7"/>
<circle cx="186.3" cy="482.5" r="2.2"/>
<circle cx="219.0" cy="555.3" r="2.2"/>
<circle cx="251.7" cy="547.5" r="2.2"/>
<circle cx="284.4" cy="495.1" r="2.2"/>
<circle cx="317.1" cy="547.3" r="2.2"/>
<circle cx="349.8" cy="552.6" r="2.2"/>
<circle cx="382.5" cy="540.0" r="2.2"/>
<circle cx="415.2" cy="575.2" r="2.2"/>
<circle cx="447.9" cy="540.0" r="2.2"/>
<circle cx="480.6" cy="574.2" r="2.2"/>
<circle cx="513.3" cy="544.8" r="2.2"/>
<circle cx="546.0" cy="570.0" r="2.2"/>
<circle cx="578.7" cy="567.9" r="2.2"/>
<circle cx="611.4" cy="552.3" r="2.2"/>
<circle cx="644.1" cy="455.6" r="2.2"/>
<circle cx="676.8" cy="528.2" r="2.2"/>
<circle cx="709.5" cy="520.3" r="2.2"/>
<circle cx="742.2" cy="546.2" r="2.2"/>
<circle cx="774.9" cy="569.7" r="2.2"/>
<circle cx="807.6" cy="544.1" r="2.2"/>
<circle cx="840.3" cy="543.3" r="2.2"/>
<circle cx="873.0" cy="467.2" r="2.2"/>
<circle cx="905.7" cy="546.7" r="2.2"/>
</g>
<g stroke="#ff6a4a" stroke-width="2" fill="#fff"><polyline fill="none" stroke-linejoin="bevel" points="186.3,467.8 219.0,536.8 251.7,536.0 284.4,454.2 317.1,484.6 349.8,549.0 382.5,522.2 415.2,572.1 447.9,542.1 480.6,557.4 513.3,517.5 546.0,558.5 578.7,545.9 611.4,561.5 644.1,532.6 676.8,551.8 709.5,542.1 742.2,546.7 774.9,568.5 807.6,545.4 840.3,523.1 873.0,449.7 905.7,518.5"/>
<circle cx="186.3" cy="467.8" r="2.2"/>
<circle cx="219.0" cy="536.8" r="2.2"/>
<circle cx="251.7" cy="536.0" r="2.2"/>
<circle cx="284.4" cy="454.2" r="2.2"/>
<circle cx="317.1" cy="484.6" r="2.2"/>
<circle cx="349.8" cy="549.0" r="2.2"/>
<circle cx="382.5" cy="522.2" r="2.2"/>
<circle cx="415.2" cy="572.1" r="2.2"/>
<circle cx="447.9" cy="542.1" r="2.2"/>
<circle cx="480.6" cy="557.4" r="2.2"/>
<circle cx="513.3" cy="517.5" r="2.2"/>
<circle cx="546.0" cy="558.5" r="2.2"/>
<circle cx="578.7" cy="545.9" r="2.2"/>
<circle cx="611.4" cy="561.5" r="2.2"/>
<circle cx="644.1" cy="532.6" r="2.2"/>
<circle cx="676.8" cy="551.8" r="2.2"/>
<circle cx="709.5" cy="542.1" r="2.2"/>
<circle cx="742.2" cy="546.7" r="2.2"/>
<circle cx="774.9" cy="568.5" r="2.2"/>
<circle cx="807.6" cy="545.4" r="2.2"/>
<circle cx="840.3" cy="523.1" r="2.2"/>
<circle cx="873.0" cy="449.7" r="2.2"/>
<circle cx="905.7" cy="518.5" r="2.2"/>
</g>
<g stroke="#3de4dc" stroke-width="2" fill="#fff"><polyline fill="none" stroke-linejoin="bevel" points="186.3,485.0 219.0,553.6 251.7,563.3 284.4,498.7 317.1,480.8 349.8,553.6 382.5,550.5 415.2,573.1 447.9,524.9 480.6,564.7 513.3,532.2 546.0,544.4 578.7,564.7 611.4,547.2 644.1,478.7 676.8,557.7 709.5,566.4 742.2,576.9 774.9,566.4 807.6,505.6 840.3,514.6 873.0,462.6 905.7,536.4"/>
<circle cx="186.3" cy="485.0" r="2.2"/>
<circle cx="219.0" cy="553.6" r="2.2"/>
<circle cx="251.7" cy="563.3" r="2.2"/>
<circle cx="284.4" cy="498.7" r="2.2"/>
<circle cx="317.1" cy="480.8" r="2.2"/>
<circle cx="349.8" cy="553.6" r="2.2"/>
<circle cx="382.5" cy="550.5" r="2.2"/>
<circle cx="415.2" cy="573.1" r="2.2"/>
<circle cx="447.9" cy="524.9" r="2.2"/>
<circle cx="480.6" cy="564.7" r="2.2"/>
<circle cx="513.3" cy="532.2" r="2.2"/>
<circle cx="546.0" cy="544.4" r="2.2"/>
<circle cx="578.7" cy="564.7" r="2.2"/>
<circle cx="611.4" cy="547.2" r="2.2"/>
<circle cx="644.1" cy="478.7" r="2.2"/>
<circle cx="676.8" cy="557.7" r="2.2"/>
<circle cx="709.5" cy="566.4" r="2.2"/>
<circle cx="742.2" cy="576.9" r="2.2"/>
<circle cx="774.9" cy="566.4" r="2.2"/>
<circle cx="807.6" cy="505.6" r="2.2"/>
<circle cx="840.3" cy="514.6" r="2.2"/>
<circle cx="873.0" cy="462.6" r="2.2"/>
<circle cx="905.7" cy="536.4" r="2.2"/>
</g>
<g stroke="#5477c8" stroke-width="2" fill="#fff"><polyline fill="none" stroke-linejoin="bevel" points="186.3,492.4 219.0,557.4 251.7,555.3 284.4,522.8 317.1,429.9 349.8,544.8 382.5,540.6 415.2,533.7 447.9,541.7 480.6,560.1 513.3,521.7 546.0,535.4 578.7,570.6 611.4,533.1 644.1,449.2 676.8,567.9 709.5,574.9 742.2,582.6 774.9,574.9 807.6,574.1 840.3,544.1 873.0,472.3 905.7,552.6"/>
<circle cx="186.3" cy="492.4" r="2.2"/>
<circle cx="219.0" cy="557.4" r="2.2"/>
<circle cx="251.7" cy="555.3" r="2.2"/>
<circle cx="284.4" cy="522.8" r="2.2"/>
<circle cx="317.1" cy="429.9" r="2.2"/>
<circle cx="349.8" cy="544.8" r="2.2"/>
<circle cx="382.5" cy="540.6" r="2.2"/>
<circle cx="415.2" cy="533.7" r="2.2"/>
<circle cx="447.9" cy="541.7" r="2.2"/>
<circle cx="480.6" cy="560.1" r="2.2"/>
<circle cx="513.3" cy="521.7" r="2.2"/>
<circle cx="546.0" cy="535.4" r="2.2"/>
<circle cx="578.7" cy="570.6" r="2.2"/>
<circle cx="611.4" cy="533.1" r="2.2"/>
<circle cx="644.1" cy="449.2" r="2.2"/>
<circle cx="676.8" cy="567.9" r="2.2"/>
<circle cx="709.5" cy="574.9" r="2.2"/>
<circle cx="742.2" cy="582.6" r="2.2"/>
<circle cx="774.9" cy="574.9" r="2.2"/>
<circle cx="807.6" cy="574.1" r="2.2"/>
<circle cx="840.3" cy="544.1" r="2.2"/>
<circle cx="873.0" cy="472.3" r="2.2"/>
<circle cx="905.7" cy="552.6" r="2.2"/>
</g>
<g stroke="#4f9a64" stroke-width="2" fill="#fff"><polyline fill="none" stroke-linejoin="bevel" points="186.3,502.9 219.0,559.5 251.7,566.8 284.4,539.6 317.1,554.3 349.8,582.2 382.5,561.2 415.2,582.2 447.9,557.8 480.6,582.6 513.3,526.4 546.0,567.5 578.7,554.9 611.4,539.0 644.1,461.3 676.8,498.5 709.5,460.8 742.2,514.1 774.9,501.0 807.6,528.7 840.3,543.3 873.0,483.8 905.7,557.7"/>
<circle cx="186.3" cy="502.9" r="2.2"/>
<circle cx="219.0" cy="559.5" r="2.2"/>
<circle cx="251.7" cy="566.8" r="2.2"/>
<circle cx="284.4" cy="539.6" r="2.2"/>
<circle cx="317.1" cy="554.3" r="2.2"/>
<circle cx="349.8" cy="582.2" r="2.2"/>
<circle cx="382.5" cy="561.2" r="2.2"/>
<circle cx="415.2" cy="582.2" r="2.2"/>
<circle cx="447.9" cy="557.8" r="2.2"/>
<circle cx="480.6" cy="582.6" r="2.2"/>
<circle cx="513.3" cy="526.4" r="2.2"/>
<circle cx="546.0" cy="567.5" r="2.2"/>
<circle cx="578.7" cy="554.9" r="2.2"/>
<circle cx="611.4" cy="539.0" r="2.2"/>
<circle cx="644.1" cy="461.3" r="2.2"/>
<circle cx="676.8" cy="498.5" r="2.2"/>
<circle cx="709.5" cy="460.8" r="2.2"/>
<circle cx="742.2" cy="514.1" r="2.2"/>
<circle cx="774.9" cy="501.0" r="2.2"/>
<circle cx="807.6" cy="528.7" r="2.2"/>
<circle cx="840.3" cy="543.3" r="2.2"/>
<circle cx="873.0" cy="483.8" r="2.2"/>
<circle cx="905.7" cy="557.7" r="2.2"/>
</g>
<rect x="172.5" y="590.8" width="752.5" height="6.800000000000068" rx="3" fill="rgba(255,255,255,.75)" stroke="#d9e0f0" stroke-width="1.2"/>
<path d="M175.5 596.6 C292.5 594.6, 422.5 597.6 , 502.5 595.6 S 672.5 593.6, 732.5 595.6 S 872.5 594.6,921 596.6" fill="none" stroke="#e3e8f4" stroke-width="1.5"/>
<rect x="172.5" y="590.8" width="112.5" height="6.800000000000068" fill="rgba(135,175,255,.22)"/>
<rect x="172.5" y="584.0999999999999" width="112.5" height="6.7" rx="1" fill="rgba(210,219,238,.82)"/>
<line x1="226.75" y1="585.8" x2="226.75" y2="588.8" stroke="#fff" stroke-width="1"/>
<line x1="228.75" y1="585.8" x2="228.75" y2="588.8" stroke="#fff" stroke-width="1"/>
<line x1="230.75" y1="585.8" x2="230.75" y2="588.8" stroke="#fff" stroke-width="1"/>
<rect x="171.0" y="591.5999999999999" width="3" height="5.200000000000069" rx="1.2" fill="#fff" stroke="#acb8d1" stroke-width="0.8"/>
<rect x="283.5" y="591.5999999999999" width="3" height="5.200000000000069" rx="1.2" fill="#fff" stroke="#acb8d1" stroke-width="0.8"/>
</svg>
</div>
<div class="txt">
<div class="ln">学生在<span class="d">26</span>秒、<span class="d">11</span>秒、<span class="d">89</span>秒、<span class="d">93</span>秒、<span class="d">129</span>秒学生与对标老师指尖力度控制很接近。</div>
<div class="ln">差异性：学生在<span class="d">1</span>秒学生指尖力度比对标老师较轻，可能原因：学生左手中指力度太小，可能原因是指法不当。<span class="d">55</span>秒学生</div>
<div class="ln">指尖力度比对标老师较重，可能原因：学生左手拇指力度太大，可能原因是指法不当。<span class="d">124</span>秒学生指尖力度比对标老师较</div>
<div class="ln">轻，可能原因：学生右手小拇指力度太小，可能原因是指法不当。<span class="d">109</span>秒学生指尖力度比对标老师较轻，可能原因：学生</div>
<div class="ln">右手小拇指力度太小，可能原因是指法不当。<span class="d">29</span>秒学生指尖力度比对标老师较轻，可能原因：学生右手中指力度太小，</div>
<div class="ln">可能原因是指法不当。以上几处差异较大，建议多加练习，来提升演奏技巧。</div>
</div>
<div class="side">
<div class="vid" style="top:12px"><svg width="56" height="100" viewBox="0 0 56 100"><rect width="56" height="100" fill="#15171b"/><rect x="0" y="0" width="33" height="36" fill="#9c5c2c"/><rect x="9" y="0" width="3" height="36" fill="#cf9a5c"/><rect x="12" y="0" width="14" height="36" fill="#b5773c"/><rect x="29" y="0" width="4" height="33" fill="#efcd88"/><rect x="33" y="0" width="23" height="36" fill="#1c2835"/><circle cx="46" cy="2" r="4" fill="#3c5878" opacity=".75"/><circle cx="43" cy="19" r="1.3" fill="#8fb4dc"/><circle cx="41" cy="9" r="1" fill="#6b8db5"/><path d="M0 9 L6 12.5 L23 13.5" stroke="#1d2129" stroke-width="2" fill="none"/><rect x="5" y="10.5" width="4" height="4.5" rx="1" fill="#1d2129"/><rect x="20" y="11" width="5" height="5" rx="1.5" fill="#1d2129"/><rect x="24" y="21" width="6" height="2.5" rx="1" fill="#15181f"/><rect x="29" y="19" width="1.5" height="16" fill="#cfd3d8"/><rect x="0" y="34" width="56" height="32" fill="#3a342f"/><rect x="12" y="34" width="16" height="20" fill="#8d7052"/><rect x="30" y="34" width="14" height="8" fill="#7a6a58"/><rect x="0" y="38" width="9" height="16" rx="4" fill="#1f2024"/><rect x="0" y="52" width="30" height="12" fill="#3c4250"/><rect x="14" y="54" width="22" height="6" fill="#22252b"/><path d="M37 52 L48 43 L56 50 L56 64 L38 64 Z" fill="#8e8e8e"/><rect x="28" y="40" width="12" height="24" fill="#202226" opacity=".8"/><rect x="47" y="28" width="9" height="10" rx="3" fill="#d4d6dc"/><circle cx="51.5" cy="24" r="3" fill="#b4907c"/><rect x="48.5" y="20" width="6" height="3" rx="1" fill="#1a1a1a"/><rect x="0" y="66" width="24" height="34" fill="#1a2335"/><rect x="4" y="80" width="1.4" height="1.4" fill="#7f93b8"/><rect x="9" y="86" width="1.4" height="1.4" fill="#7f93b8"/><rect x="15" y="82" width="1.4" height="1.4" fill="#7f93b8"/><rect x="6" y="92" width="1.4" height="1.4" fill="#7f93b8"/><rect x="13" y="95" width="1.4" height="1.4" fill="#7f93b8"/><rect x="18" y="90" width="1.4" height="1.4" fill="#7f93b8"/><rect x="3" y="97" width="1.4" height="1.4" fill="#7f93b8"/><rect x="11" y="78" width="1.4" height="1.4" fill="#7f93b8"/><rect x="19" y="97" width="1.4" height="1.4" fill="#7f93b8"/><rect x="1" y="66" width="13" height="9" rx="3" fill="#e4e6ec"/><path d="M14 72 L23 68 L23 76 L16 77 Z" fill="#c49a6c"/><rect x="21" y="66" width="10" height="34" fill="#e6e6e8"/><rect x="26" y="68" width="6" height="2.2" fill="#15161a"/><rect x="26" y="72" width="6" height="2.2" fill="#15161a"/><rect x="26" y="76" width="6" height="2.2" fill="#15161a"/><rect x="26" y="80" width="6" height="2.2" fill="#15161a"/><rect x="26" y="84" width="6" height="2.2" fill="#15161a"/><rect x="26" y="88" width="6" height="2.2" fill="#15161a"/><rect x="26" y="92" width="6" height="2.2" fill="#15161a"/><rect x="26" y="96" width="6" height="2.2" fill="#15161a"/><rect x="32" y="66" width="24" height="34" fill="#15171a"/><path d="M39 66 L50 100" stroke="#8a6a2a" stroke-width="2"/><path d="M43 70 L56 96 L56 100 L50 100 L41 74 Z" fill="#35443f" opacity=".8"/><rect x="41" y="66" width="8" height="4" fill="#c9c3ae"/></svg><div class="play"></div></div>
<div class="strip"><div class="bar"><svg width="176" height="24" style="position:absolute;left:0;top:0"><rect x="18.4" y="0" width="0.80" height="24" fill="#d2d2ca" opacity="0.22"/><rect x="26.8" y="0" width="0.87" height="24" fill="#d2d2ca" opacity="0.35"/><rect x="35.1" y="0" width="0.94" height="24" fill="#d2d2ca" opacity="0.48"/><rect x="43.5" y="0" width="1.01" height="24" fill="#d2d2ca" opacity="0.61"/><rect x="52.7" y="0" width="1.08" height="24" fill="#d2d2ca" opacity="0.74"/><rect x="61.1" y="0" width="1.15" height="24" fill="#d2d2ca" opacity="0.87"/><rect x="69.5" y="0" width="1.22" height="24" fill="#d2d2ca" opacity="0.95"/><rect x="77.8" y="0" width="1.29" height="24" fill="#d2d2ca" opacity="0.95"/><rect x="85.4" y="0" width="1.36" height="24" fill="#d2d2ca" opacity="0.95"/><rect x="92.9" y="0" width="1.43" height="24" fill="#d2d2ca" opacity="0.95"/><rect x="100.4" y="0" width="1.50" height="24" fill="#d2d2ca" opacity="0.95"/><rect x="107.9" y="0" width="1.57" height="24" fill="#d2d2ca" opacity="0.95"/><rect x="115.0" y="0" width="1.64" height="24" fill="#d2d2ca" opacity="0.95"/><rect x="121.8" y="0" width="1.71" height="24" fill="#d2d2ca" opacity="0.95"/><rect x="128.0" y="0" width="1.78" height="24" fill="#d2d2ca" opacity="0.95"/><rect x="133.9" y="0" width="1.85" height="24" fill="#d2d2ca" opacity="0.95"/><rect x="139.7" y="0" width="1.92" height="24" fill="#d2d2ca" opacity="0.95"/><rect x="144.8" y="0" width="1.99" height="24" fill="#d2d2ca" opacity="0.95"/><rect x="149.5" y="0" width="2.06" height="24" fill="#d2d2ca" opacity="0.95"/><rect x="154.0" y="0" width="2.13" height="24" fill="#d2d2ca" opacity="0.95"/><rect x="158.2" y="0" width="2.20" height="24" fill="#d2d2ca" opacity="0.95"/></svg><div class="fade"></div><span style="left:1px;top:7px;font-size:10px;color:#d8d8d0">~</span><span style="right:0.5px;top:5.5px;font-size:12px;color:#8d8e84">+</span></div></div>
<div class="vid" style="top:140px"><svg width="56" height="100" viewBox="0 0 56 100"><rect width="56" height="100" fill="#15171b"/><rect x="0" y="0" width="33" height="36" fill="#9c5c2c"/><rect x="9" y="0" width="3" height="36" fill="#cf9a5c"/><rect x="12" y="0" width="14" height="36" fill="#b5773c"/><rect x="29" y="0" width="4" height="33" fill="#efcd88"/><rect x="33" y="0" width="23" height="36" fill="#1c2835"/><circle cx="46" cy="2" r="4" fill="#3c5878" opacity=".75"/><circle cx="43" cy="19" r="1.3" fill="#8fb4dc"/><circle cx="41" cy="9" r="1" fill="#6b8db5"/><path d="M0 9 L6 12.5 L23 13.5" stroke="#1d2129" stroke-width="2" fill="none"/><rect x="5" y="10.5" width="4" height="4.5" rx="1" fill="#1d2129"/><rect x="20" y="11" width="5" height="5" rx="1.5" fill="#1d2129"/><rect x="24" y="21" width="6" height="2.5" rx="1" fill="#15181f"/><rect x="29" y="19" width="1.5" height="16" fill="#cfd3d8"/><rect x="0" y="34" width="56" height="32" fill="#3a342f"/><rect x="12" y="34" width="16" height="20" fill="#8d7052"/><rect x="30" y="34" width="14" height="8" fill="#7a6a58"/><rect x="0" y="38" width="9" height="16" rx="4" fill="#1f2024"/><rect x="0" y="52" width="30" height="12" fill="#3c4250"/><rect x="14" y="54" width="22" height="6" fill="#22252b"/><path d="M37 52 L48 43 L56 50 L56 64 L38 64 Z" fill="#8e8e8e"/><rect x="28" y="40" width="12" height="24" fill="#202226" opacity=".8"/><rect x="40" y="30" width="14" height="8" rx="3" fill="#cfd1d7"/><circle cx="46" cy="23" r="3.6" fill="#b4907c"/><rect x="42" y="18.5" width="8" height="3.5" rx="1.5" fill="#1a1a1a"/><rect x="0" y="66" width="56" height="34" fill="#101215"/><path d="M0 65 L0 82 L24 84 L41 75 L41 70 L22 69 L8 65 Z" fill="#e4eaf7"/><circle cx="44" cy="72" r="3.2" fill="#caa07a"/><rect x="41" y="66" width="8" height="3.5" fill="#d9d2b8"/><rect x="21" y="84" width="10" height="16" fill="#dcdcdf"/><rect x="26" y="86" width="6" height="2.2" fill="#15161a"/><rect x="26" y="90" width="6" height="2.2" fill="#15161a"/><rect x="26" y="94" width="6" height="2.2" fill="#15161a"/><rect x="26" y="98" width="6" height="2.2" fill="#15161a"/><path d="M40 78 L46 100" stroke="#8a6a2a" stroke-width="2.5"/><rect x="5" y="88" width="10" height="12" fill="#5c4129"/><rect x="46" y="90" width="8" height="8" fill="#2a3a36"/></svg><div class="play"></div></div>
<div class="mi" style="top:260px">音色</div>
<div class="mi" style="top:312px">指尖速度</div>
<div class="mi act" style="top:364px">指尖力度</div>
<div class="mi" style="top:416px">姿态</div>
<div class="mi" style="top:468px">虚拟呈现</div>
<div class="mi" style="top:520px">准确度</div>
<div class="mend"></div>
</div>
<div class="sb"></div>
</body></html>
